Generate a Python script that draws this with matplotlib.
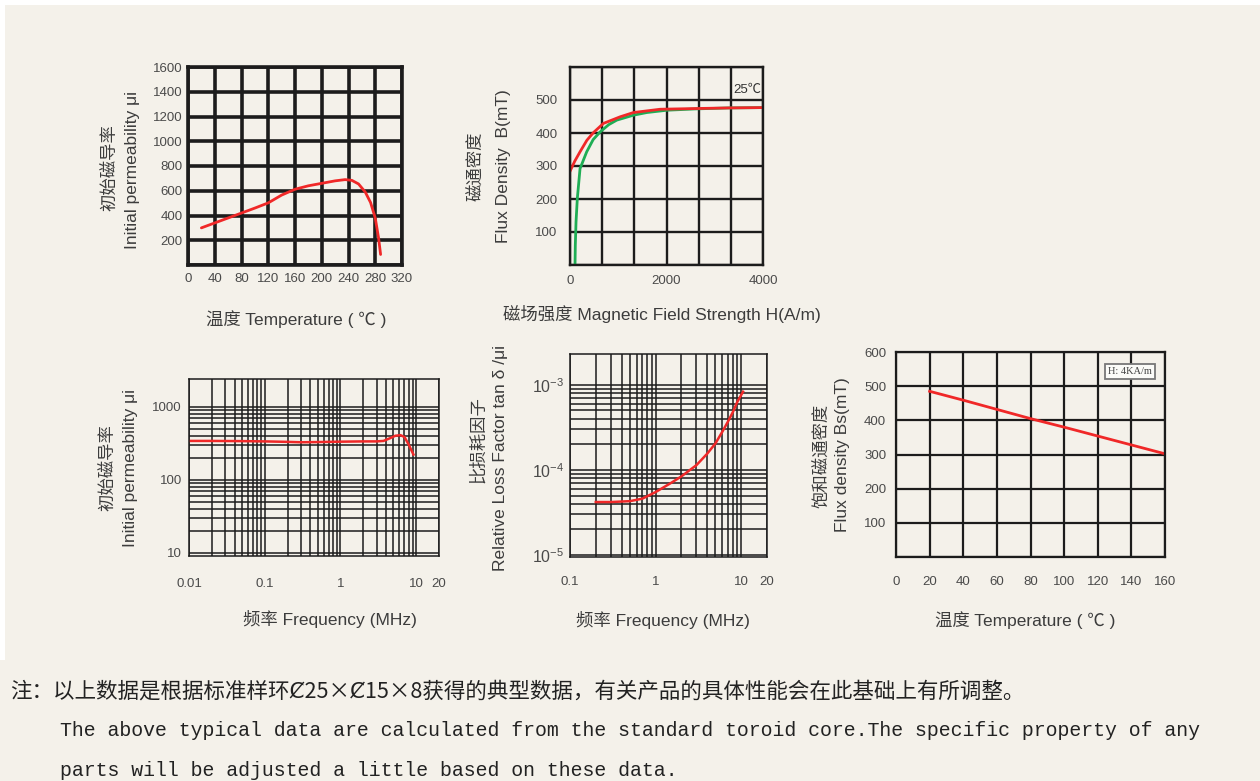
import matplotlib
matplotlib.use('Agg')
import matplotlib.pyplot as plt
from matplotlib.patches import Rectangle
from matplotlib.ticker import FixedLocator, NullFormatter

# ---------------- data ----------------
# Top-left: initial permeability vs temperature
tl_temp = [20, 40, 60, 80, 100, 120, 140, 160, 180, 200, 220, 235, 245, 255, 265, 273, 280, 285, 288]
tl_mu = [300, 340, 380, 420, 460, 502, 565, 612, 640, 660, 680, 690, 684, 655, 590, 505, 380, 217, 85]
tl_xticks = [0, 40, 80, 120, 160, 200, 240, 280, 320]
tl_yticks = [200, 400, 600, 800, 1000, 1200, 1400, 1600]

# Top-middle: B-H curves
bh_red_h = [0, 100, 208, 350, 484, 692, 1038, 1315, 1869, 2561, 3300, 4000]
bh_red_b = [284, 315, 343, 378, 401, 429, 449, 462, 472, 474, 476, 477]
bh_green_h = [104, 110, 125, 152, 208, 346, 480, 623, 800, 969, 1315, 1592, 2007, 2600, 3300, 4000]
bh_green_b = [0, 60, 131, 202, 292, 343, 380, 403, 425, 439, 454, 462, 469, 473, 476, 477]
bh_xticks = [0, 2000, 4000]
bh_yticks = [100, 200, 300, 400, 500]

# Bottom-left: permeability vs frequency
fl_freq = [0.01, 0.02, 0.05, 0.1, 0.2, 0.3, 0.5, 1, 2, 3, 3.7, 4.5, 5.3, 6.2, 7, 8, 9.2]
fl_mu = [340, 340, 338, 335, 330, 326, 328, 332, 335, 335, 340, 370, 400, 408, 385, 300, 221]
fl_xticks = [0.01, 0.1, 1, 10, 20]
fl_xlabels = ['0.01', '0.1', '1', '10', '20']
fl_yticks = [10, 100, 1000]

# Bottom-middle: loss factor vs frequency
lf_freq = [0.2, 0.3, 0.5, 0.7, 1, 1.5, 2, 3, 4, 5, 6, 7, 8, 9, 10.5]
lf_tan = [4.2e-5, 4.2e-5, 4.3e-5, 4.6e-5, 5.5e-5, 7e-5, 8.4e-5, 1.14e-4, 1.55e-4, 2.05e-4,
          2.8e-4, 3.7e-4, 4.8e-4, 6.3e-4, 8.3e-4]
lf_xticks = [0.1, 1, 10, 20]
lf_xlabels = ['0.1', '1', '10', '20']
lf_yticks = [1e-5, 1e-4, 1e-3]
lf_ylabels = [r'$10^{-5}$', r'$10^{-4}$', r'$10^{-3}$']

# Bottom-right: saturation flux density vs temperature
bs_temp = [20, 40, 60, 80, 100, 120, 140, 160]
bs_val = [485, 459, 432, 405, 380, 354, 328, 302]
bs_xticks = [0, 20, 40, 60, 80, 100, 120, 140, 160]
bs_yticks = [100, 200, 300, 400, 500, 600]

# ---------------- style ----------------
W, H = 1260, 781
BG = '#f4f1ea'
RED = '#f02828'
GREEN = '#1fae55'
GRID = '#1c1c1c'
TXT = '#3c3c3c'
TICK = '#4a4a4a'
SANS = ['Liberation Sans', 'Noto Sans CJK SC', 'DejaVu Sans']
plt.rcParams['font.family'] = SANS
plt.rcParams['mathtext.fontset'] = 'custom'
plt.rcParams['mathtext.rm'] = 'Liberation Sans'
plt.rcParams['mathtext.it'] = 'Liberation Sans'
plt.rcParams['axes.unicode_minus'] = True

fig = plt.figure(figsize=(W / 100, H / 100), dpi=100)
fig.patch.set_facecolor(BG)
fig.add_artist(Rectangle((0, 1 - 5 / H), 1, 5 / H, transform=fig.transFigure,
                         color='white', lw=0, zorder=0))
fig.add_artist(Rectangle((0, 1 - 660 / H), 5 / W, 660 / H, transform=fig.transFigure,
                         color='white', lw=0, zorder=0))


def add_ax(l, t, r, b):
    ax = fig.add_axes([l / W, 1 - b / H, (r - l) / W, (b - t) / H])
    ax.set_facecolor(BG)
    ax.set_axisbelow(True)
    return ax


def style(ax, lw, xpad, ypad):
    for s in ax.spines.values():
        s.set_linewidth(lw)
        s.set_color(GRID)
    ax.tick_params(which='both', length=0, labelsize=9.5, labelcolor=TICK)
    ax.tick_params(axis='x', which='both', pad=xpad)
    ax.tick_params(axis='y', which='both', pad=ypad)
    ax.grid(True, which='both', color=GRID, lw=lw)


def ftext(x, y, s, **kw):
    kw.setdefault('fontsize', 12.5)
    kw.setdefault('color', TXT)
    kw.setdefault('ha', 'center')
    kw.setdefault('va', 'center')
    fig.text(x / W, 1 - y / H, s, **kw)


def ylab(xc, xe, yc, ye, zh, en):
    ftext(xc, yc, zh, rotation=90)
    ftext(xe, ye, en, rotation=90)


# ---- Top-left ----
ax = add_ax(188, 67, 402, 265)
ax.plot(tl_temp, tl_mu, color=RED, lw=2.0, solid_capstyle='round', solid_joinstyle='round')
ax.set_xlim(0, 320)
ax.set_ylim(0, 1600)
ax.set_xticks(tl_xticks)
ax.yaxis.set_major_locator(FixedLocator(tl_yticks))
ax.yaxis.set_minor_locator(FixedLocator([0]))
ax.yaxis.set_minor_formatter(NullFormatter())
style(ax, 2.6, 6, 4)
ftext(296, 319, '温度 Temperature ( ℃ )')
ylab(110, 132, 168, 170, '初始磁导率', 'Initial permeability μi')

# ---- Top-middle ----
ax = add_ax(570, 67, 763, 265)
ax.plot(bh_green_h, bh_green_b, color=GREEN, lw=2.0, solid_joinstyle='round')
ax.plot(bh_red_h, bh_red_b, color=RED, lw=2.0, solid_joinstyle='round')
ax.set_xlim(0, 4000)
ax.set_ylim(0, 600)
ax.xaxis.set_major_locator(FixedLocator(bh_xticks))
ax.xaxis.set_minor_locator(FixedLocator([4000 * k / 6 for k in (1, 2, 4, 5)]))
ax.xaxis.set_minor_formatter(NullFormatter())
ax.yaxis.set_major_locator(FixedLocator(bh_yticks))
ax.yaxis.set_minor_locator(FixedLocator([0, 600]))
ax.yaxis.set_minor_formatter(NullFormatter())
style(ax, 1.7, 7, 9)
ax.text(3975, 532, '25℃', fontsize=9.5, color='#333', ha='right', va='center')
ftext(662, 314, '磁场强度 Magnetic Field Strength H(A/m)')
ylab(476, 503, 166, 166, '磁通密度', 'Flux Density  B(mT)')

# ---- Bottom-left ----
ax = add_ax(189, 379, 439, 556)
ax.set_xscale('log')
ax.set_yscale('log')
ax.plot(fl_freq, fl_mu, color=RED, lw=1.8, solid_joinstyle='round')
ax.set_xlim(0.01, 20)
ax.set_ylim(9, 2400)
ax.xaxis.set_major_locator(FixedLocator(fl_xticks))
ax.set_xticklabels(fl_xlabels)
ax.xaxis.set_minor_locator(FixedLocator([k * 10.0 ** n for n in (-2, -1, 0) for k in range(2, 10)]))
ax.xaxis.set_minor_formatter(NullFormatter())
ax.yaxis.set_major_locator(FixedLocator(fl_yticks))
ax.set_yticklabels(['10', '100', '1000'])
ax.yaxis.set_minor_locator(FixedLocator([k * 10.0 ** n for n in (1, 2) for k in range(2, 10)]))
ax.yaxis.set_minor_formatter(NullFormatter())
style(ax, 1.1, 16, 5)
ftext(330, 619, '频率 Frequency (MHz)')
ylab(108, 130, 468, 468, '初始磁导率', 'Initial permeability μi')

# ---- Bottom-middle ----
ax = add_ax(570, 354, 767, 557)
ax.set_xscale('log')
ax.set_yscale('log')
ax.plot(lf_freq, lf_tan, color=RED, lw=1.8, solid_joinstyle='round')
ax.set_xlim(0.1, 20)
ax.set_ylim(0.95e-5, 2.3e-3)
ax.xaxis.set_major_locator(FixedLocator(lf_xticks))
ax.set_xticklabels(lf_xlabels)
ax.xaxis.set_minor_locator(FixedLocator([k * 10.0 ** n for n in (-1, 0) for k in range(2, 10)]))
ax.xaxis.set_minor_formatter(NullFormatter())
ax.yaxis.set_major_locator(FixedLocator(lf_yticks))
ax.set_yticklabels(lf_ylabels)
ax.yaxis.set_minor_locator(FixedLocator([k * 10.0 ** n for n in (-5, -4) for k in range(2, 10)]))
ax.yaxis.set_minor_formatter(NullFormatter())
style(ax, 1.1, 14, 4)
ax.tick_params(axis='y', labelsize=11.5)
ftext(663, 620, '频率 Frequency (MHz)')
ylab(478, 500, 440, 458, '比损耗因子', 'Relative Loss Factor tan δ /μi')

# ---- Bottom-right ----
ax = add_ax(896, 352, 1165, 557)
ax.plot(bs_temp, bs_val, color=RED, lw=2.0)
ax.set_xlim(0, 160)
ax.set_ylim(0, 600)
ax.set_xticks(bs_xticks)
ax.yaxis.set_major_locator(FixedLocator(bs_yticks))
ax.yaxis.set_minor_locator(FixedLocator([0]))
ax.yaxis.set_minor_formatter(NullFormatter())
style(ax, 1.6, 14, 7)
ax.text(139.2, 543, 'H: 4KA/m', fontsize=7.5, family='Liberation Serif', color='#444',
        ha='center', va='center', zorder=10,
        bbox=dict(boxstyle='square,pad=0.3', fc='#fbfbf8', ec='#777', lw=1.3))
ftext(1025, 620, '温度 Temperature ( ℃ )')
ylab(822, 843, 456, 455, '饱和磁通密度', 'Flux density Bs(mT)')

# ---- Note ----
fig.text(10 / W, 1 - 692 / H, '注：以上数据是根据标准样环Ȼ25×Ȼ15×8获得的典型数据，有关产品的具体性能会在此基础上有所调整。',
         fontsize=15.5, color='#222', ha='left', va='center',
         family=['Noto Sans CJK SC', 'DejaVu Sans'])
fig.text(60 / W, 1 - 731 / H,
         'The above typical data are calculated from the standard toroid core.The specific property of any',
         fontsize=14.3, color='#222', ha='left', va='center', family='Liberation Mono')
fig.text(60 / W, 1 - 770 / H, 'parts will be adjusted a little based on these data.',
         fontsize=14.3, color='#222', ha='left', va='center', family='Liberation Mono')

fig.savefig('out.png', dpi=100, facecolor=fig.get_facecolor())
